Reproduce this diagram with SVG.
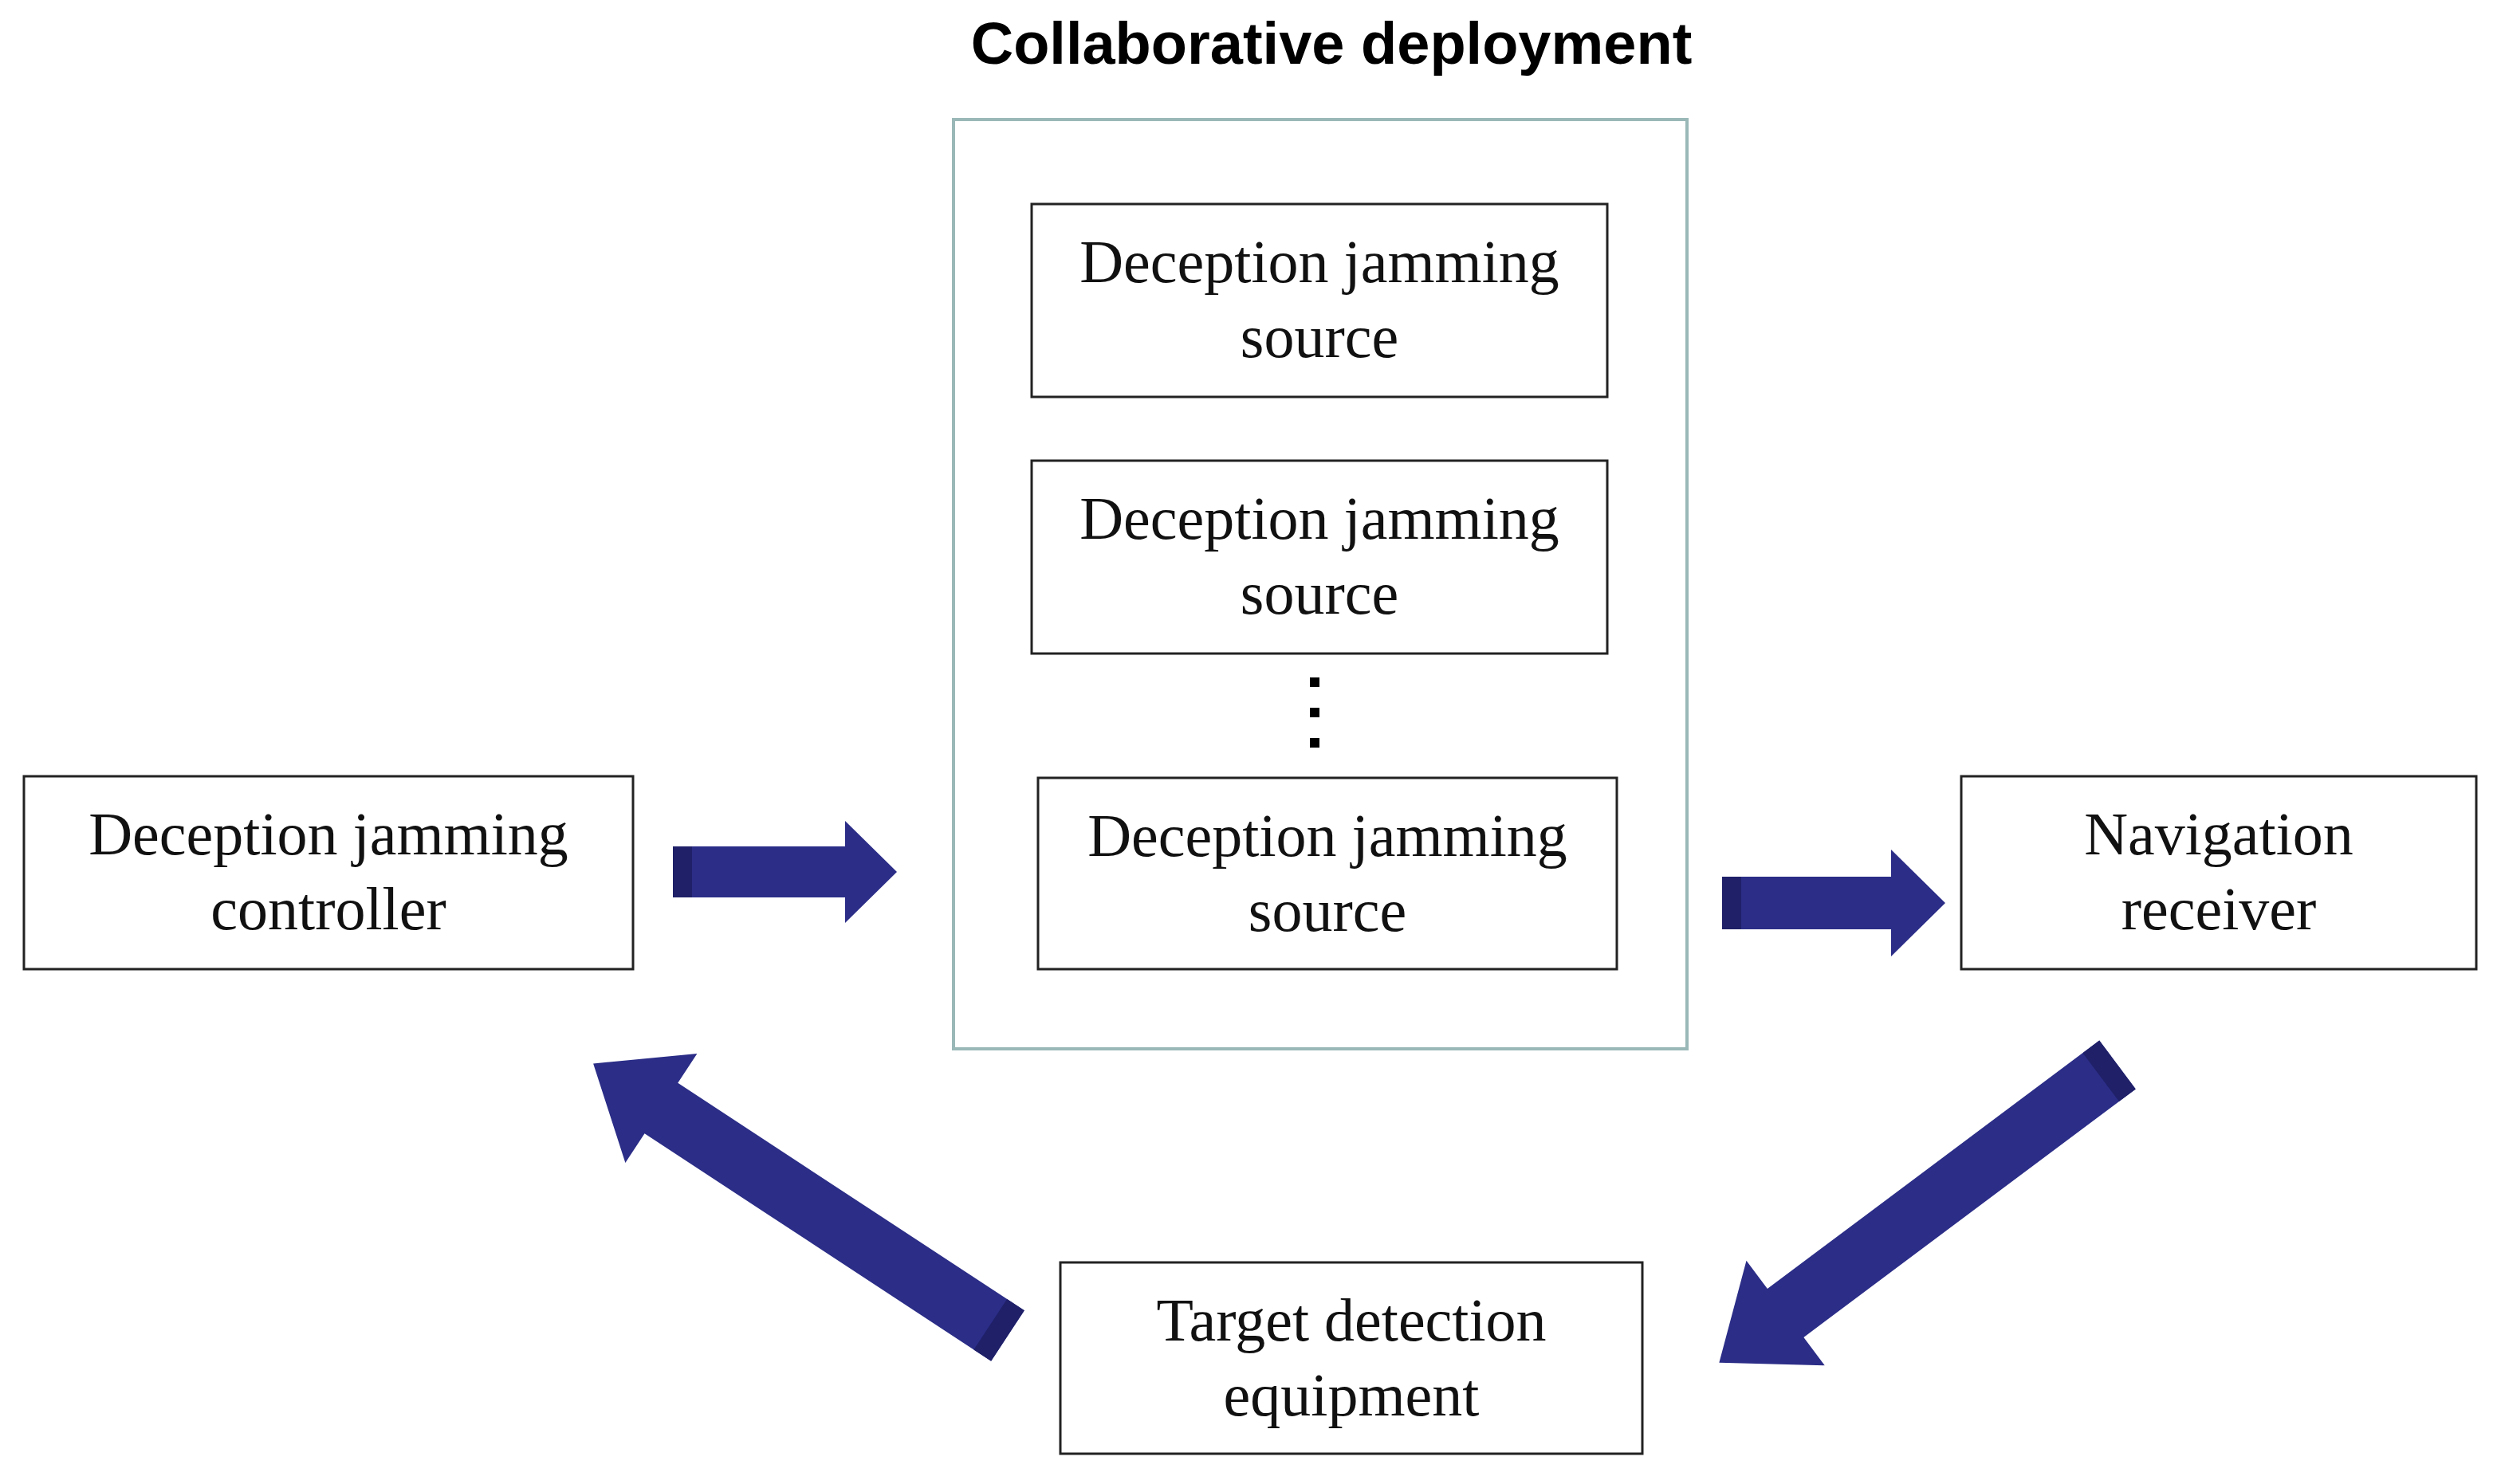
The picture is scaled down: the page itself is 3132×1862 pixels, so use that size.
<svg xmlns="http://www.w3.org/2000/svg" width="3132" height="1862" viewBox="0 0 3132 1862">
<style>
.box{fill:#fff;stroke:#222;stroke-width:3}
.t{font-family:"Liberation Serif",serif;font-size:76px;fill:#111;text-anchor:middle}
.ar{fill:#2b2d87}
.ad{fill:#1f2068}
</style>
<rect width="3132" height="1862" fill="#fff"/>
<text x="1670" y="80" font-family="Liberation Sans,Arial,sans-serif" font-weight="bold" font-size="74" text-anchor="middle" fill="#000">Collaborative deployment</text>
<g id="deployment"><rect x="1196" y="150" width="920" height="1166" fill="none" stroke="#9ab8b8" stroke-width="4"/></g>
<g id="source1"><rect class="box" x="1294" y="256" width="722" height="242"/><text class="t" x="1655" y="354">Deception jamming</text><text class="t" x="1655" y="448">source</text></g>
<g id="source2"><rect class="box" x="1294" y="578" width="722" height="242"/><text class="t" x="1655" y="676">Deception jamming</text><text class="t" x="1655" y="770">source</text></g>
<g id="dots"><rect x="1643" y="850" width="12" height="12" fill="#000"/><rect x="1643" y="888" width="12" height="12" fill="#000"/><rect x="1643" y="926" width="12" height="12" fill="#000"/></g>
<g id="source3"><rect class="box" x="1302" y="976" width="726" height="240"/><text class="t" x="1665" y="1074">Deception jamming</text><text class="t" x="1665" y="1168">source</text></g>
<g id="controller"><rect class="box" x="30" y="974" width="764" height="242"/><text class="t" x="412" y="1072">Deception jamming</text><text class="t" x="412" y="1166">controller</text></g>
<g id="receiver"><rect class="box" x="2460" y="974" width="646" height="242"/><text class="t" x="2783" y="1072">Navigation</text><text class="t" x="2783" y="1166">receiver</text></g>
<g id="target"><rect class="box" x="1330" y="1584" width="730" height="240"/><text class="t" x="1695" y="1682">Target detection</text><text class="t" x="1695" y="1776">equipment</text></g>
<g id="connectors">
<g transform="translate(844,1094)"><path class="ar" d="M0,-32 H216 V-64 L281,0 L216,64 V32 H0 Z"/><rect class="ad" x="0" y="-32" width="24" height="64"/></g>
<g transform="translate(2160,1133)"><path class="ar" d="M0,-33 H212 V-67 L280,0 L212,67 V33 H0 Z"/><rect class="ad" x="0" y="-33" width="24" height="66"/></g>
<g transform="translate(2656,1336) rotate(143.2)"><path class="ar" d="M0,-38 H520 V-82 L624,0 L520,82 V38 H0 Z"/><rect class="ad" x="0" y="-38" width="26" height="76"/></g>
<g transform="translate(1264,1676) rotate(-146.7)"><path class="ar" d="M0,-38 H520 V-82 L622,0 L520,82 V38 H0 Z"/><rect class="ad" x="0" y="-38" width="26" height="76"/></g>
</g>
</svg>
